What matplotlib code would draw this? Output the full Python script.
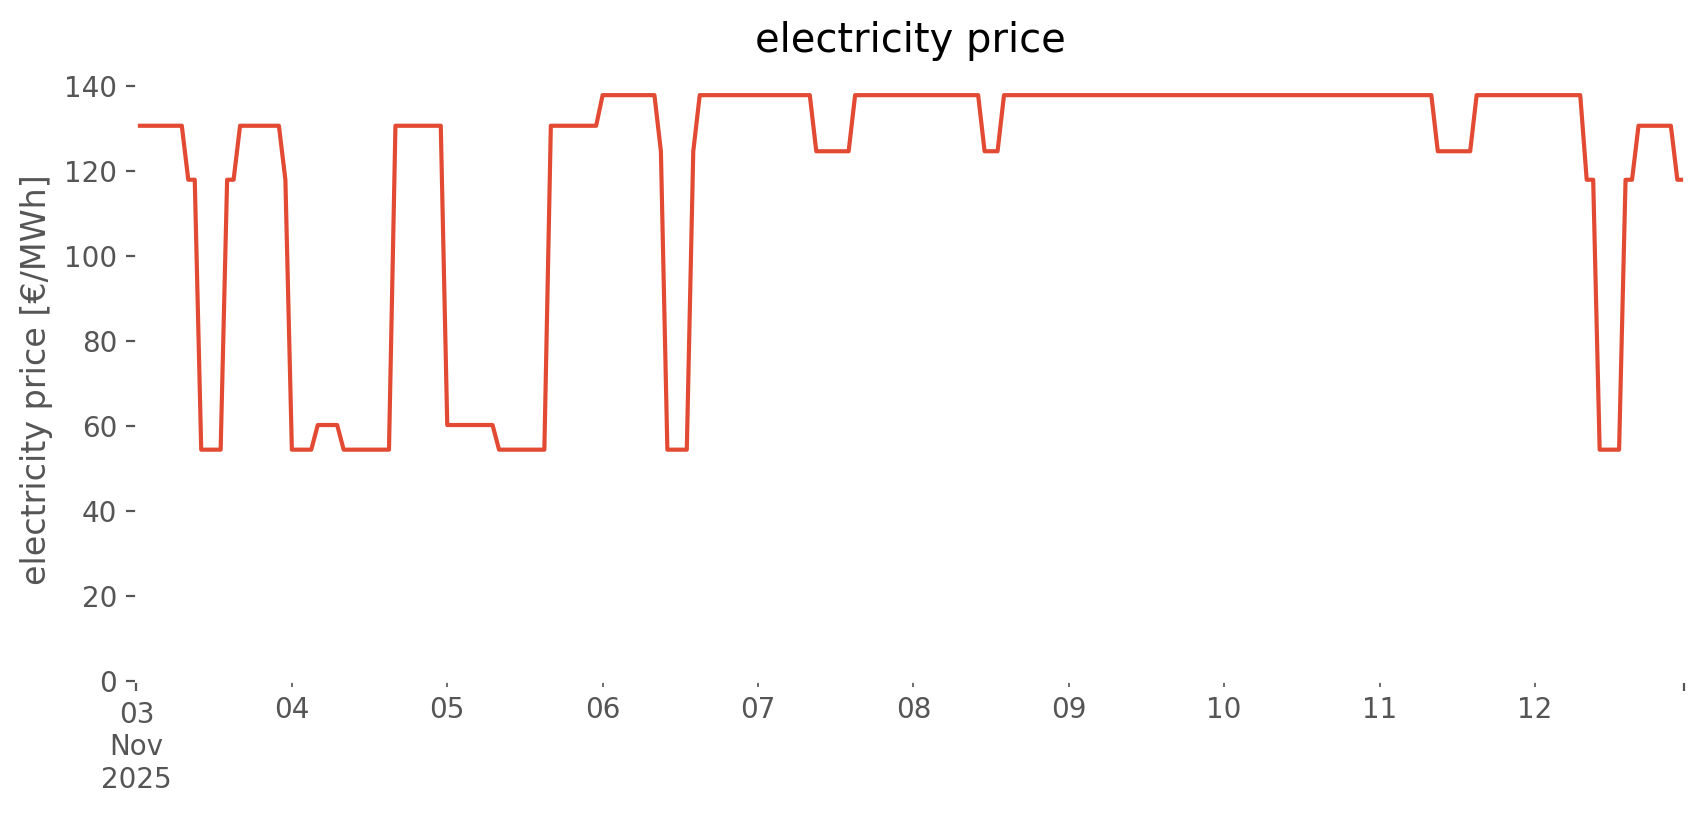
import matplotlib
matplotlib.use("Agg")
import matplotlib.pyplot as plt
import pandas as pd

# hourly day-ahead price, one list per day (€/MWh)
start = "2025-11-03 00:00"
day_03 = [130.7, 130.7, 130.7, 130.7, 130.7, 130.7, 130.7, 130.7, 118.0, 118.0, 54.5, 54.5,
          54.5, 54.5, 118.0, 118.0, 130.7, 130.7, 130.7, 130.7, 130.7, 130.7, 130.7, 118.0]
day_04 = [54.5, 54.5, 54.5, 54.5, 60.3, 60.3, 60.3, 60.3, 54.5, 54.5, 54.5, 54.5,
          54.5, 54.5, 54.5, 54.5, 130.7, 130.7, 130.7, 130.7, 130.7, 130.7, 130.7, 130.7]
day_05 = [60.3, 60.3, 60.3, 60.3, 60.3, 60.3, 60.3, 60.3, 54.5, 54.5, 54.5, 54.5,
          54.5, 54.5, 54.5, 54.5, 130.7, 130.7, 130.7, 130.7, 130.7, 130.7, 130.7, 130.7]
day_06 = [137.9, 137.9, 137.9, 137.9, 137.9, 137.9, 137.9, 137.9, 137.9, 124.7, 54.5, 54.5,
          54.5, 54.5, 124.7, 137.9, 137.9, 137.9, 137.9, 137.9, 137.9, 137.9, 137.9, 137.9]
day_07 = [137.9, 137.9, 137.9, 137.9, 137.9, 137.9, 137.9, 137.9, 137.9, 124.7, 124.7, 124.7,
          124.7, 124.7, 124.7, 137.9, 137.9, 137.9, 137.9, 137.9, 137.9, 137.9, 137.9, 137.9]
day_08 = [137.9, 137.9, 137.9, 137.9, 137.9, 137.9, 137.9, 137.9, 137.9, 137.9, 137.9, 124.7,
          124.7, 124.7, 137.9, 137.9, 137.9, 137.9, 137.9, 137.9, 137.9, 137.9, 137.9, 137.9]
day_09 = [137.9, 137.9, 137.9, 137.9, 137.9, 137.9, 137.9, 137.9, 137.9, 137.9, 137.9, 137.9,
          137.9, 137.9, 137.9, 137.9, 137.9, 137.9, 137.9, 137.9, 137.9, 137.9, 137.9, 137.9]
day_10 = [137.9, 137.9, 137.9, 137.9, 137.9, 137.9, 137.9, 137.9, 137.9, 137.9, 137.9, 137.9,
          137.9, 137.9, 137.9, 137.9, 137.9, 137.9, 137.9, 137.9, 137.9, 137.9, 137.9, 137.9]
day_11 = [137.9, 137.9, 137.9, 137.9, 137.9, 137.9, 137.9, 137.9, 137.9, 124.7, 124.7, 124.7,
          124.7, 124.7, 124.7, 137.9, 137.9, 137.9, 137.9, 137.9, 137.9, 137.9, 137.9, 137.9]
day_12 = [137.9, 137.9, 137.9, 137.9, 137.9, 137.9, 137.9, 137.9, 118.0, 118.0, 54.5, 54.5,
          54.5, 54.5, 118.0, 118.0, 130.7, 130.7, 130.7, 130.7, 130.7, 130.7, 118.0, 118.0]

days = [day_03, day_04, day_05, day_06, day_07, day_08, day_09, day_10, day_11, day_12]
prices = [p for d in days for p in d]
index = pd.date_range(start, periods=len(prices), freq="h")
price = pd.Series(prices, index=index, name="electricity price")

plt.style.use("ggplot")
plt.rcParams["axes.facecolor"] = "white"
plt.rcParams["axes.grid"] = False

DPI = 200
fig, ax = plt.subplots(figsize=(1706 / DPI, 815 / DPI), dpi=DPI)
price.plot(ax=ax)
ax.set_ylim(bottom=0)
ax.set_title("electricity price", color="black", pad=9)
ax.set_ylabel("electricity price [€/MWh]")
ax.set_xlabel("")

fig.subplots_adjust(left=0.08, right=0.987, bottom=0.164, top=0.905)
fig.savefig("out.png", dpi=DPI)
